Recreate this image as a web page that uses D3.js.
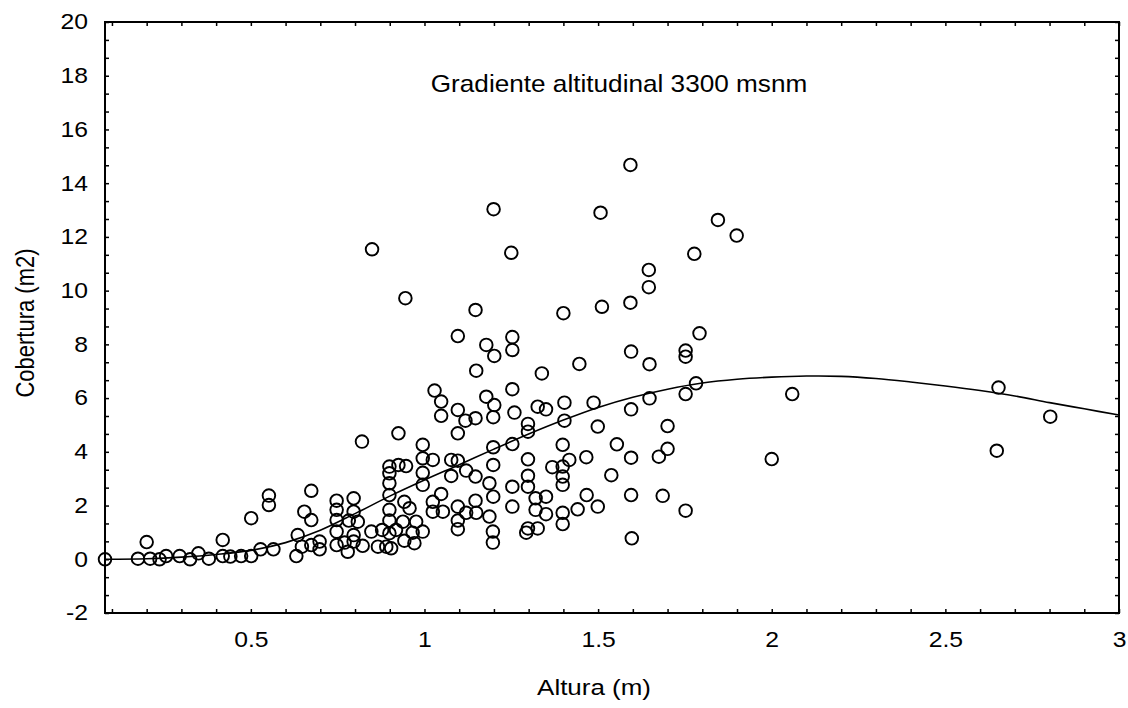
<!DOCTYPE html>
<html>
<head>
<meta charset="utf-8">
<script src="https://cdn.jsdelivr.net/npm/d3@7"></script>
<style>
  body { margin: 0; background: #fff; }
  svg { display: block; }
  text { font-family: "Liberation Sans", Arial, sans-serif; fill: #000; }
</style>
</head>
<body>
<svg width="1128" height="708"></svg>
<script>
// Altura (m) of each plant
var altura = [
  0.08, 0.175, 0.20, 0.21, 0.237, 0.256, 0.295, 0.325, 0.349, 0.379,
  0.419, 0.419, 0.441, 0.472, 0.501, 0.501, 0.528, 0.552, 0.552, 0.565,
  0.631, 0.635, 0.647, 0.654, 0.674, 0.674, 0.674, 0.698, 0.698, 0.747,
  0.747, 0.747, 0.747, 0.747, 0.770, 0.779, 0.782, 0.796, 0.796, 0.796,
  0.796, 0.808, 0.822, 0.820, 0.847, 0.866, 0.878, 0.890, 0.899, 0.899,
  0.899, 0.899, 0.899, 0.899, 0.899, 0.925, 0.925, 0.947, 0.942, 0.957,
  0.938, 0.976, 0.995, 0.966, 0.942, 0.971, 0.918, 0.904, 0.995, 0.995,
  1.024, 0.995, 0.995, 1.029, 1.048, 1.048, 1.096, 1.118, 1.147, 1.096,
  1.178, 1.201, 1.198, 1.253, 1.259, 1.326, 1.350, 1.403, 1.403, 1.487,
  1.499, 1.595, 1.648, 1.752, 1.782, 1.700, 1.700, 1.675, 1.595, 1.554,
  1.538, 1.466, 1.417, 1.398, 1.398, 1.398, 1.398, 1.368, 1.298, 1.298,
  1.298, 1.298, 1.298, 1.253, 1.253, 1.253, 1.198, 1.198, 1.187, 1.198,
  1.187, 1.197, 1.197, 1.147, 1.120, 1.096, 1.077, 1.077, 1.147, 1.149,
  1.120, 1.096, 1.096, 1.096, 1.048, 1.024, 1.024, 1.053, 1.320, 1.350,
  1.320, 1.350, 1.298, 1.293, 1.326, 1.398, 1.398, 1.441, 1.467, 1.499,
  1.595, 1.686, 1.752, 1.597, 1.096, 1.178, 1.201, 1.253, 1.253, 1.149,
  1.338, 1.446, 1.595, 1.648, 1.752, 1.752, 1.792, 0.849, 0.945, 1.199,
  1.250, 1.593, 1.507, 1.147, 1.400, 1.511, 1.593, 1.646, 1.646, 1.777,
  1.845, 1.899, 2.059, 2.000, 2.653, 2.648, 2.802
];
// Cobertura (m2) of each plant
var cobertura = [
  0.00, 0.02, 0.64, 0.02, 0.00, 0.12, 0.12, 0.00, 0.22, 0.02,
  0.72, 0.12, 0.10, 0.12, 0.12, 1.53, 0.37, 2.37, 2.02, 0.37,
  0.12, 0.90, 0.47, 1.77, 2.55, 1.46, 0.53, 0.66, 0.37, 2.18,
  1.84, 1.46, 1.03, 0.53, 0.62, 0.28, 1.44, 2.27, 1.77, 0.90,
  0.66, 1.40, 0.50, 4.38, 1.03, 0.47, 1.09, 0.47, 3.45, 3.20,
  2.83, 2.39, 1.84, 1.44, 0.97, 4.69, 3.51, 3.47, 2.14, 1.90,
  1.40, 1.40, 1.03, 0.99, 0.69, 0.60, 1.09, 0.41, 4.26, 3.76,
  3.70, 3.22, 2.77, 6.28, 5.87, 5.34, 5.56, 5.16, 5.25, 4.69,
  6.05, 5.74, 5.29, 6.33, 5.46, 5.68, 5.58, 5.83, 5.16, 5.83,
  4.94, 5.58, 5.99, 6.15, 6.55, 4.96, 4.11, 3.82, 3.78, 4.28,
  3.13, 3.80, 3.70, 4.26, 3.45, 3.08, 2.77, 3.43, 5.04, 4.75,
  3.72, 3.11, 2.70, 4.29, 2.70, 1.96, 4.17, 3.51, 2.83, 2.33,
  1.59, 1.03, 0.62, 3.08, 3.30, 3.67, 3.70, 3.10, 2.18, 1.73,
  1.73, 1.96, 1.44, 1.12, 2.43, 2.14, 1.77, 1.77, 2.27, 2.33,
  1.84, 1.68, 1.15, 0.99, 1.15, 1.73, 1.31, 1.86, 2.39, 1.96,
  2.39, 2.36, 1.81, 0.78, 8.31, 7.98, 7.57, 8.27, 7.79, 7.02,
  6.92, 7.27, 7.73, 7.26, 7.77, 7.54, 8.41, 11.54, 9.72, 13.03,
  11.41, 14.68, 12.90, 9.28, 9.16, 9.40, 9.55, 10.77, 10.13, 11.37,
  12.63, 12.05, 6.15, 3.73, 6.39, 4.04, 5.31
];

// fitted curve
var curveX = [0.08, 0.2, 0.3, 0.4, 0.5, 0.6, 0.7, 0.8, 0.9, 1.0, 1.1, 1.2, 1.3, 1.4, 1.5,
              1.6, 1.7, 1.8, 1.9, 2.0, 2.1, 2.2, 2.3, 2.4, 2.5, 2.6, 2.7, 2.8, 2.9, 3.0];
var curveY = [0.0, 0.02, 0.08, 0.18, 0.33, 0.62, 1.08, 1.7, 2.35, 2.95, 3.52, 4.1, 4.66, 5.18, 5.65,
              6.03, 6.33, 6.56, 6.7, 6.78, 6.82, 6.81, 6.73, 6.6, 6.45, 6.28, 6.08, 5.83, 5.6, 5.37];

var xTickLabels = ["0.5", "1", "1.5", "2", "2.5", "3"];
var yTickLabels = ["-2", "0", "2", "4", "6", "8", "10", "12", "14", "16", "18", "20"];

var title = "Gradiente altitudinal 3300 msnm";
var xTitle = "Altura (m)";
var yTitle = "Cobertura (m2)";

var svg = d3.select("svg");
var pLeft = 105, pRight = 1119, pTop = 22, pBottom = 613;

var x = d3.scaleLinear().domain([0.08, 3]).range([pLeft, pRight]);
var y = d3.scaleLinear().domain([-2, 20]).range([pBottom, pTop]);

var stretch = 1.15;

// minor ticks on all four sides, pointing inward
var xMinor = d3.range(0.1, 3.001, 0.1);
var yMinor = d3.range(-2, 20.001, 2 / 3);

function tickOnly(g) {
  g.select(".domain").remove();
  g.selectAll("line").attr("stroke", "#000").attr("stroke-width", 1.5);
}

svg.append("g").attr("transform", "translate(0," + pBottom + ")")
  .call(d3.axisBottom(x).tickValues(xMinor).tickSize(-4).tickFormat(""))
  .call(tickOnly);
svg.append("g").attr("transform", "translate(0," + pTop + ")")
  .call(d3.axisTop(x).tickValues(xMinor).tickSize(-4).tickFormat(""))
  .call(tickOnly);
svg.append("g").attr("transform", "translate(" + pLeft + ",0)")
  .call(d3.axisLeft(y).tickValues(yMinor).tickSize(-4).tickFormat(""))
  .call(tickOnly);
svg.append("g").attr("transform", "translate(" + pRight + ",0)")
  .call(d3.axisRight(y).tickValues(yMinor).tickSize(-4).tickFormat(""))
  .call(tickOnly);

// tick labels (kept as typed, with a plain hyphen for -2)
var xLab = svg.append("g").attr("transform", "translate(0," + pBottom + ")")
  .call(d3.axisBottom(x).tickValues(xTickLabels.map(Number)).tickSize(0).tickPadding(19)
    .tickFormat(function(d, i) { return xTickLabels[i]; }));
var yLab = svg.append("g").attr("transform", "translate(" + pLeft + ",0)")
  .call(d3.axisLeft(y).tickValues(yTickLabels.map(Number)).tickSize(0).tickPadding(17)
    .tickFormat(function(d, i) { return yTickLabels[i]; }));
[xLab, yLab].forEach(function(g) {
  g.select(".domain").remove();
  g.selectAll("text")
    .attr("font-family", "Liberation Sans, Arial, sans-serif")
    .attr("font-size", 21.5)
    .each(function() {
      var t = d3.select(this);
      var tx = +t.attr("x") || 0;
      t.attr("x", 0).attr("transform", "translate(" + tx + ",0) scale(" + stretch + ",1)");
    });
});

// frame
svg.append("rect")
  .attr("x", pLeft).attr("y", pTop)
  .attr("width", pRight - pLeft).attr("height", pBottom - pTop)
  .attr("fill", "none").attr("stroke", "#000").attr("stroke-width", 2);

// fitted curve
var line = d3.line()
  .x(function(d, i) { return x(curveX[i]); })
  .y(function(d) { return y(d); })
  .curve(d3.curveCatmullRom);
svg.append("path")
  .datum(curveY)
  .attr("d", line)
  .attr("fill", "none")
  .attr("stroke", "#000")
  .attr("stroke-width", 1.6);

// points
svg.append("g").selectAll("circle")
  .data(altura)
  .enter()
  .append("circle")
  .attr("cx", function(d) { return x(d); })
  .attr("cy", function(d, i) { return y(cobertura[i]); })
  .attr("r", 6.3)
  .attr("fill", "none")
  .attr("stroke", "#000")
  .attr("stroke-width", 1.9);

// texts
svg.append("text")
  .attr("transform", "translate(619,92) scale(1.09,1)")
  .attr("text-anchor", "middle")
  .attr("font-size", 24)
  .text(title);

svg.append("text")
  .attr("transform", "translate(594,695) scale(1.18,1)")
  .attr("text-anchor", "middle")
  .attr("font-size", 22)
  .text(xTitle);

svg.append("text")
  .attr("transform", "translate(34,323) scale(1.15,1) rotate(-90)")
  .attr("text-anchor", "middle")
  .attr("font-size", 22)
  .text(yTitle);
</script>
</body>
</html>
